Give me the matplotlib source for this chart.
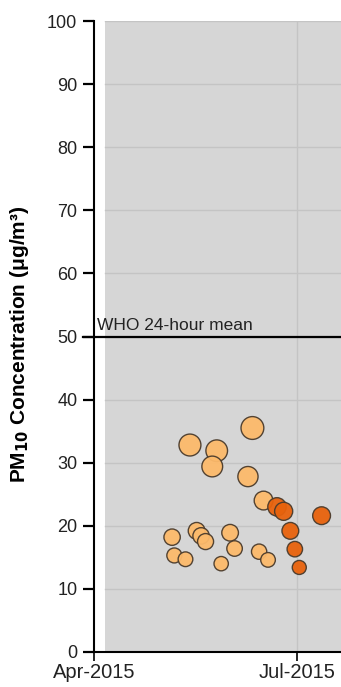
import datetime as dt
import matplotlib
matplotlib.use("Agg")
import matplotlib.pyplot as plt
import matplotlib.dates as mdates
import matplotlib.transforms as mtransforms
import numpy as np

plt.rcParams['font.family'] = ['Liberation Sans', 'DejaVu Sans']

# Daily PM10 readings (µg/m³); earlier period and later period
early_dates = ["2015-06-11", "2015-05-14", "2015-05-26", "2015-05-24", "2015-06-09",
               "2015-06-16", "2015-05-06", "2015-05-07", "2015-05-12", "2015-05-17",
               "2015-05-19", "2015-05-21", "2015-05-28", "2015-06-01", "2015-06-03",
               "2015-06-14", "2015-06-18"]
early_pm10 = [35.5, 32.8, 31.9, 29.4, 27.8,
              24.0, 18.2, 15.3, 14.7, 19.2,
              18.4, 17.5, 14.0, 18.9, 16.4,
              15.9, 14.6]

late_dates = ["2015-06-22", "2015-06-25", "2015-07-12", "2015-06-28", "2015-06-30",
              "2015-07-02"]
late_pm10 = [23.0, 22.3, 21.6, 19.2, 16.3, 13.4]

who_limit = 50
who_label = "WHO 24-hour mean"
y_ticks = [0, 10, 20, 30, 40, 50, 60, 70, 80, 90, 100]
x_tick_dates = ["2015-04-01", "2015-07-01"]
x_tick_labels = ["Apr-2015", "Jul-2015"]
period_start = "2015-04-06"


def to_num(ds):
    return mdates.date2num([dt.datetime.strptime(d, "%Y-%m-%d") for d in ds])


W, H = 341, 687
fig = plt.figure(figsize=(W / 100, H / 100), dpi=100)
ax = fig.add_axes([94 / W, (H - 652) / H, (W - 94) / W, 631 / H])
ax.set_facecolor("white")

x0 = to_num(["2015-04-01"])[0]
ax.set_xlim(x0, x0 + 110.7)
ax.set_ylim(0, 100)

# shaded measurement period
ax.axvspan(to_num([period_start])[0], x0 + 200, color="#d6d6d6", zorder=0, lw=0)

# grid drawn inside the shaded region
xs = to_num([period_start])[0]
for yv in y_ticks[1:]:
    ax.plot([xs, x0 + 200], [yv, yv], color="#c4c4c4", lw=1.0, zorder=0.5)
ax.axvline(to_num(["2015-07-01"])[0], color="#c4c4c4", lw=1.0, zorder=0.5)

# WHO guideline
trans = mtransforms.blended_transform_factory(ax.transAxes, ax.transData)
ax.plot([-0.045, 1.0], [who_limit, who_limit], color="black", lw=1.6,
        transform=trans, clip_on=False, zorder=2)
ax.text(0.014, who_limit + 0.6, who_label, transform=trans, fontsize=12.5,
        color="#222222", va="bottom", ha="left")


def sizes(v):
    return 7.6 * np.asarray(v)


ax.scatter(to_num(early_dates), early_pm10, s=sizes(early_pm10), color="#fdba6b",
           edgecolors="#4a3b2c", linewidths=1.0, zorder=3, alpha=0.95)
ax.scatter(to_num(late_dates), late_pm10, s=sizes(late_pm10), color="#e8620c",
           edgecolors="#4a3b2c", linewidths=1.0, zorder=4, alpha=0.95)

for side in ("top", "right"):
    ax.spines[side].set_visible(False)
ax.spines["left"].set_linewidth(1.5)
ax.spines["bottom"].set_linewidth(1.5)

ax.set_yticks(y_ticks)
ax.set_yticklabels([str(v) for v in y_ticks])
ax.tick_params(axis="y", direction="out", length=8, width=1.6, pad=4,
               labelsize=13, labelcolor="#222222")
ax.set_xticks(to_num(x_tick_dates))
ax.set_xticklabels(x_tick_labels)
ax.tick_params(axis="x", direction="out", length=6.5, width=1.2, pad=1.5,
               labelsize=14.5, labelcolor="#222222")

fig.text(20 / W, 1 - 344 / H, r"PM$_{\mathbf{10}}$ Concentration (μg/m³)",
         rotation=90, ha="center", va="center", fontsize=15, fontweight="bold")

fig.savefig("out.png", dpi=100)
